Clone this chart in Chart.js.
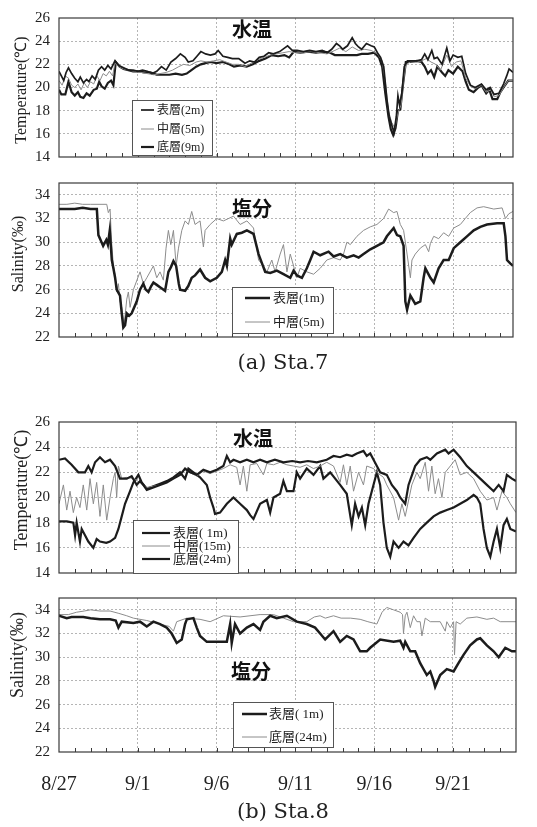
<!DOCTYPE html>
<html>
<head>
<meta charset="utf-8">
<script src="https://cdn.jsdelivr.net/npm/chart.js@4/dist/chart.umd.min.js"></script>
<style>
  html, body { margin: 0; padding: 0; background: #fff; }
  #wrap { position: relative; width: 537px; height: 827px; overflow: hidden; }
  #wrap canvas { position: absolute; left: 0; top: 0; }
</style>
</head>
<body>
<div id="wrap">
  <canvas id="c1" width="537" height="827"></canvas>
  <canvas id="c2" width="537" height="827"></canvas>
  <canvas id="c3" width="537" height="827"></canvas>
  <canvas id="c4" width="537" height="827"></canvas>
</div>
<script>
// Time axis: days elapsed since 8/27 00:00
const dateTicks = [0, 5, 10, 15, 20, 25];
const dateLabels = ['8/27', '9/1', '9/6', '9/11', '9/16', '9/21'];
const tempTicks = [14, 16, 18, 20, 22, 24, 26];
const salTicks = [22, 24, 26, 28, 30, 32, 34];

// ---- Sta.7 water temperature (°C), [day, value] ----
const sta7TempSurface = [[0,21.4],[0.15,21.0],[0.3,20.6],[0.45,21.3],[0.6,21.7],[0.8,21.2],[1.0,20.8],[1.2,20.5],[1.35,20.9],[1.55,20.4],[1.75,20.7],[1.9,20.5],[2.1,21.0],[2.3,20.7],[2.5,21.5],[2.7,21.8],[2.9,21.5],[3.1,21.9],[3.3,21.6],[3.55,22.3],[3.8,21.9],[4.1,21.7],[4.4,21.5],[4.7,21.5],[5.0,21.4],[5.3,21.5],[5.6,21.4],[5.9,21.2],[6.2,21.4],[6.5,21.8],[6.8,21.5],[7.1,22.2],[7.4,22.5],[7.7,22.9],[8.0,22.6],[8.2,22.2],[8.5,22.3],[8.75,22.7],[9.0,23.1],[9.3,22.9],[9.6,22.8],[9.9,22.9],[10.1,23.2],[10.4,22.7],[10.7,22.6],[11.0,22.5],[11.4,22.5],[11.8,22.1],[12.1,22.3],[12.4,22.2],[12.7,22.6],[13.0,22.7],[13.3,23.0],[13.6,22.9],[14.0,23.1],[14.3,23.4],[14.5,23.6],[14.8,23.2],[15.1,23.2],[15.5,23.1],[15.9,23.2],[16.3,23.1],[16.7,23.2],[17.0,23.0],[17.3,23.3],[17.6,23.8],[17.8,23.6],[18.0,23.3],[18.3,23.6],[18.6,24.3],[18.8,23.8],[19.0,23.5],[19.2,23.3],[19.5,23.8],[19.8,23.6],[20.0,23.5],[20.2,23.0],[20.4,22.6],[20.6,21.8],[20.8,19.0],[20.95,17.5],[21.1,16.8],[21.25,16.1],[21.4,17.5],[21.5,19.3],[21.6,18.5],[21.75,19.5],[21.9,21.8],[22.1,22.3],[22.4,22.3],[22.7,22.3],[23.0,22.4],[23.2,22.9],[23.4,22.4],[23.65,23.2],[23.8,22.5],[24.0,22.6],[24.3,22.0],[24.6,23.4],[24.8,22.3],[25.0,22.8],[25.3,22.6],[25.55,22.7],[25.8,21.2],[26.1,20.2],[26.4,20.0],[26.8,20.3],[27.1,19.8],[27.35,20.0],[27.6,19.4],[27.9,19.5],[28.2,20.3],[28.4,21.0],[28.55,21.6],[28.8,21.3]];
const sta7TempMiddle = [[0,20.6],[0.2,20.2],[0.4,21.0],[0.6,20.8],[0.8,20.2],[1.0,20.0],[1.2,20.3],[1.4,19.8],[1.6,20.4],[1.8,20.0],[2.0,20.5],[2.2,20.3],[2.4,21.0],[2.6,20.6],[2.8,21.2],[3.0,21.0],[3.2,21.4],[3.4,21.0],[3.55,22.1],[3.8,21.8],[4.1,21.6],[4.4,21.5],[4.8,21.4],[5.2,21.3],[5.6,21.2],[6.0,21.1],[6.4,21.2],[6.8,21.3],[7.2,21.5],[7.6,21.8],[7.9,22.0],[8.3,21.9],[8.7,22.2],[9.0,22.3],[9.4,22.2],[9.8,22.3],[10.2,22.4],[10.6,22.2],[11.0,22.0],[11.4,22.0],[11.8,21.8],[12.2,22.1],[12.6,22.4],[13.0,22.6],[13.4,22.8],[13.8,22.9],[14.2,23.0],[14.6,23.1],[15.0,23.0],[15.5,23.0],[16.0,23.1],[16.5,23.0],[17.0,22.9],[17.5,23.2],[17.8,23.4],[18.2,23.1],[18.6,23.5],[19.0,23.2],[19.4,23.3],[19.8,23.2],[20.2,22.9],[20.5,22.3],[20.7,20.5],[20.9,18.0],[21.1,17.0],[21.3,16.5],[21.5,17.8],[21.7,18.5],[21.85,20.5],[22.0,22.0],[22.3,22.2],[22.7,22.2],[23.0,22.3],[23.3,22.5],[23.6,22.2],[23.9,22.0],[24.2,21.5],[24.6,22.8],[24.9,21.8],[25.2,22.2],[25.5,22.3],[25.8,20.8],[26.1,20.1],[26.4,19.9],[26.8,20.2],[27.1,19.6],[27.4,19.8],[27.6,19.2],[27.9,19.3],[28.2,20.0],[28.5,20.6],[28.8,20.6]];
const sta7TempBottom = [[0,19.8],[0.15,19.4],[0.4,19.4],[0.6,20.5],[0.8,19.6],[1.0,19.3],[1.2,19.6],[1.35,19.2],[1.55,19.1],[1.75,19.5],[1.95,19.3],[2.2,19.8],[2.4,19.9],[2.55,20.5],[2.7,20.1],[2.9,19.9],[3.1,20.4],[3.3,20.6],[3.45,20.2],[3.6,22.2],[3.85,21.8],[4.1,21.6],[4.4,21.5],[4.7,21.4],[5.0,21.4],[5.4,21.3],[5.8,21.3],[6.2,21.1],[6.6,21.1],[7.0,21.1],[7.4,21.2],[7.8,21.1],[8.1,21.2],[8.4,21.5],[8.7,21.8],[9.0,22.0],[9.3,22.1],[9.6,22.2],[10.0,22.1],[10.4,22.2],[10.8,22.0],[11.1,21.8],[11.5,21.9],[11.9,21.8],[12.3,22.0],[12.7,22.3],[13.1,22.5],[13.5,22.8],[13.9,22.7],[14.3,22.8],[14.6,22.6],[14.9,23.1],[15.3,23.0],[15.8,23.1],[16.3,23.0],[16.8,23.1],[17.2,23.0],[17.5,22.8],[18.0,22.8],[18.5,22.8],[18.9,22.8],[19.2,22.9],[19.6,22.9],[20.0,23.0],[20.3,22.6],[20.5,21.8],[20.7,19.5],[20.9,17.5],[21.05,16.4],[21.2,15.9],[21.35,16.5],[21.5,18.0],[21.65,18.1],[21.8,20.0],[22.0,22.2],[22.3,22.2],[22.7,22.3],[23.0,22.2],[23.2,21.8],[23.4,21.2],[23.6,21.5],[23.8,20.9],[24.0,21.8],[24.3,21.3],[24.5,21.0],[24.7,21.5],[25.0,21.2],[25.3,21.8],[25.6,21.4],[25.8,20.5],[26.0,19.8],[26.3,19.6],[26.6,20.0],[26.8,20.2],[27.1,19.5],[27.3,19.8],[27.5,19.0],[27.8,19.0],[28.0,19.6],[28.2,20.0],[28.5,20.6],[28.8,20.6]];

// ---- Sta.7 salinity (‰) ----
const sta7SalSurface = [[0,32.8],[0.5,32.8],[1.0,32.8],[1.5,32.9],[2.0,32.8],[2.4,32.8],[2.5,30.6],[2.7,30.0],[2.8,29.7],[3.0,30.2],[3.1,29.8],[3.22,31.0],[3.35,28.5],[3.45,27.8],[3.56,27.0],[3.66,26.0],[3.87,25.5],[3.98,24.0],[4.08,22.8],[4.19,23.0],[4.3,24.0],[4.45,23.8],[4.61,24.0],[4.8,24.6],[4.93,25.0],[5.14,26.0],[5.35,26.5],[5.5,26.0],[5.67,25.8],[5.85,26.3],[5.99,26.6],[6.2,26.4],[6.41,26.2],[6.73,25.9],[6.94,27.5],[7.1,27.9],[7.26,28.4],[7.43,28.0],[7.6,26.5],[7.68,26.0],[8.0,25.9],[8.2,26.3],[8.42,27.0],[8.63,27.2],[8.95,27.7],[9.27,27.0],[9.59,26.7],[10.01,27.0],[10.33,27.5],[10.54,28.5],[10.65,28.0],[10.86,30.3],[10.96,29.8],[11.28,30.7],[11.6,30.8],[11.92,31.0],[12.34,30.7],[12.66,29.0],[13.08,27.5],[13.4,27.4],[13.82,27.6],[14.24,27.3],[14.67,27.0],[14.88,27.6],[15.1,27.2],[15.41,27.0],[15.72,27.8],[15.94,28.5],[16.15,29.2],[16.57,28.9],[17.1,29.2],[17.42,28.8],[17.84,29.0],[18.26,28.7],[18.69,28.9],[19.01,28.7],[19.32,29.0],[19.75,29.4],[20.17,29.7],[20.59,30.0],[20.8,30.5],[21.23,31.2],[21.44,30.6],[21.65,30.5],[21.86,29.7],[21.97,25.0],[22.08,24.3],[22.29,25.5],[22.6,24.8],[22.92,25.0],[23.13,27.0],[23.24,27.8],[23.56,27.0],[23.77,26.6],[24.08,27.8],[24.4,28.5],[24.72,28.5],[25.04,29.5],[25.46,30.0],[25.88,30.5],[26.31,31.0],[26.73,31.3],[27.15,31.5],[27.79,31.6],[28.21,31.6],[28.32,30.5],[28.42,28.5],[28.64,28.2],[28.8,28.0]];
const sta7SalMiddle = [[0,33.2],[0.5,33.2],[1.0,33.3],[1.5,33.2],[2.0,33.2],[2.6,33.2],[3.03,33.2],[3.13,32.5],[3.24,32.8],[3.34,30.0],[3.45,28.0],[3.56,27.2],[3.66,25.8],[3.77,26.5],[3.87,25.0],[3.98,24.5],[4.13,23.0],[4.3,25.2],[4.4,25.8],[4.51,24.5],[4.72,26.0],[5.14,27.5],[5.35,26.5],[5.57,27.0],[5.99,28.0],[6.2,27.0],[6.41,27.5],[6.62,26.8],[6.79,29.5],[6.94,31.0],[7.09,29.8],[7.26,31.0],[7.43,28.0],[7.58,29.5],[7.79,31.0],[8.0,31.8],[8.21,31.5],[8.42,32.6],[8.63,31.5],[8.95,31.8],[9.16,29.6],[9.27,31.0],[9.59,31.5],[10.01,32.0],[10.43,31.8],[11.07,32.2],[11.49,31.5],[11.92,31.8],[12.34,31.2],[12.66,28.5],[12.97,28.0],[13.19,27.5],[13.5,28.5],[13.71,27.5],[14.03,29.0],[14.24,29.8],[14.46,27.5],[14.67,29.0],[15.09,27.0],[15.3,27.8],[15.72,27.5],[16.15,27.3],[16.57,27.8],[16.99,28.5],[17.42,28.7],[17.84,28.5],[18.05,29.0],[18.26,30.0],[18.48,29.8],[18.9,30.5],[19.32,31.0],[19.75,31.3],[20.17,31.5],[20.59,32.0],[20.91,32.8],[21.23,32.5],[21.44,32.6],[21.65,31.5],[21.86,31.0],[22.08,29.0],[22.29,27.0],[22.39,28.5],[22.6,29.0],[22.92,29.5],[23.24,29.8],[23.45,29.2],[23.56,29.9],[23.77,30.5],[24.08,30.3],[24.4,30.8],[24.72,30.5],[25.04,31.2],[25.46,31.5],[25.77,32.0],[26.09,32.5],[26.52,32.9],[26.94,33.0],[27.58,32.8],[28.11,32.9],[28.32,32.0],[28.53,32.4],[28.8,32.6]];

// ---- Sta.8 water temperature (°C) ----
const sta8TempSurface = [[0,23.0],[0.38,23.1],[0.8,22.6],[1.23,22.0],[1.65,22.0],[1.86,22.5],[2.07,22.0],[2.29,22.8],[2.6,23.2],[2.92,22.8],[3.24,23.0],[3.56,22.5],[3.87,21.5],[4.3,21.5],[4.61,21.7],[4.93,21.0],[5.14,21.3],[5.35,21.0],[5.57,20.6],[5.99,20.8],[6.41,21.0],[6.84,21.2],[7.26,21.5],[7.68,21.8],[8.0,22.3],[8.32,22.0],[8.74,21.8],[9.16,22.2],[9.59,22.0],[10.01,22.2],[10.43,22.5],[10.65,23.3],[10.86,22.8],[11.07,23.0],[11.49,22.8],[11.92,23.0],[12.34,22.8],[12.76,23.0],[13.19,22.8],[13.7,23.0],[14.24,22.8],[14.8,22.9],[15.3,22.8],[15.8,22.9],[16.36,22.8],[16.99,23.0],[17.42,23.3],[17.84,23.2],[18.26,23.4],[18.6,23.3],[18.9,23.5],[19.32,23.7],[19.53,23.3],[19.75,23.5],[20.17,22.5],[20.38,22.0],[20.8,21.8],[21.12,21.0],[21.44,20.5],[21.65,20.0],[21.97,19.5],[22.18,21.0],[22.6,22.5],[22.92,23.0],[23.34,23.2],[23.56,23.0],[23.98,23.5],[24.51,23.8],[24.72,23.5],[25.04,23.8],[25.46,23.2],[25.88,22.5],[26.31,22.0],[26.73,21.5],[27.15,21.0],[27.58,20.5],[27.9,21.0],[28.21,20.5],[28.42,21.8],[28.74,21.5],[29.0,21.3]];
const sta8TempMiddle = [[0,19.5],[0.28,21.0],[0.49,19.0],[0.7,20.5],[0.91,18.8],[1.12,20.0],[1.33,19.2],[1.54,21.0],[1.76,19.0],[1.97,21.5],[2.18,19.5],[2.39,21.2],[2.6,18.5],[2.81,21.0],[3.03,18.2],[3.24,20.0],[3.45,21.5],[3.56,22.0],[3.66,20.0],[3.77,22.5],[3.98,21.5],[4.3,21.6],[4.72,21.5],[5.14,21.2],[5.57,20.8],[5.99,20.9],[6.41,21.0],[6.84,21.2],[7.26,21.5],[7.68,21.8],[8.0,22.2],[8.42,21.9],[8.74,21.7],[9.16,22.1],[9.59,21.9],[10.01,22.1],[10.43,22.3],[10.86,22.6],[11.28,22.4],[11.49,21.0],[11.7,22.5],[11.92,20.5],[12.13,22.6],[12.55,22.7],[12.97,21.8],[13.19,22.7],[13.61,22.6],[14.03,22.8],[14.46,22.6],[14.88,22.5],[15.3,22.4],[15.72,22.6],[16.15,22.3],[16.57,22.5],[16.99,22.8],[17.42,22.5],[17.84,21.2],[18.05,22.6],[18.26,21.0],[18.48,22.5],[18.69,20.5],[19.01,22.0],[19.32,21.0],[19.53,22.5],[19.96,22.3],[20.17,22.0],[20.59,21.6],[20.8,21.0],[21.23,20.0],[21.55,18.2],[21.76,19.5],[21.97,18.5],[22.39,21.0],[22.71,22.0],[22.92,21.5],[23.24,22.8],[23.45,20.5],[23.66,22.5],[23.87,20.3],[24.08,21.5],[24.3,20.0],[24.51,22.0],[24.83,22.5],[25.14,23.0],[25.46,21.8],[25.88,22.0],[26.31,21.5],[26.73,20.5],[27.15,19.8],[27.58,20.0],[27.79,19.0],[28.11,20.5],[28.42,20.0],[28.64,19.5],[29.0,18.8]];
const sta8TempBottom = [[0,18.1],[0.5,18.1],[0.91,18.0],[1.02,17.0],[1.12,18.0],[1.33,16.5],[1.44,17.5],[1.65,17.0],[1.86,16.5],[2.18,16.0],[2.39,16.7],[2.6,16.5],[3.0,16.4],[3.24,16.5],[3.56,16.8],[3.77,17.5],[3.98,18.5],[4.19,19.5],[4.51,20.5],[4.72,21.2],[5.04,21.8],[5.25,21.2],[5.57,20.7],[5.99,20.9],[6.41,21.1],[6.84,21.3],[7.26,21.6],[7.68,22.0],[8.0,21.5],[8.21,22.3],[8.53,22.0],[8.95,21.6],[9.38,21.0],[9.59,20.0],[9.8,19.2],[9.9,18.7],[10.22,18.8],[10.65,19.5],[11.07,20.0],[11.49,19.5],[11.92,19.0],[12.13,18.6],[12.34,18.3],[12.76,19.5],[13.19,19.8],[13.4,18.8],[13.61,20.0],[14.03,20.3],[14.24,21.3],[14.46,20.5],[14.88,20.5],[15.09,22.0],[15.3,21.5],[15.72,22.3],[16.15,21.8],[16.57,22.5],[16.78,21.5],[17.21,22.0],[17.84,21.0],[18.26,20.3],[18.58,17.8],[18.79,19.5],[19.01,18.5],[19.22,19.2],[19.43,17.8],[19.64,19.5],[19.85,20.5],[20.17,22.0],[20.38,21.0],[20.59,18.0],[20.8,16.0],[21.02,15.3],[21.23,16.5],[21.55,16.0],[21.86,16.5],[22.18,16.2],[22.5,16.8],[22.92,17.5],[23.34,18.0],[23.77,18.5],[24.19,18.8],[24.61,19.0],[25.04,19.2],[25.46,19.5],[25.88,19.8],[26.31,20.2],[26.52,20.0],[26.73,19.5],[26.94,17.5],[27.15,16.0],[27.37,15.3],[27.58,16.5],[27.79,17.5],[28.0,16.0],[28.21,17.8],[28.42,18.3],[28.64,17.5],[29.0,17.3]];

// ---- Sta.8 salinity (‰) ----
const sta8SalSurface = [[0,33.5],[0.49,33.3],[0.8,33.4],[1.54,33.4],[2.0,33.3],[2.6,33.2],[3.24,33.2],[3.6,33.1],[3.77,32.5],[3.98,33.0],[4.72,32.9],[5.14,33.0],[5.57,32.6],[5.99,33.0],[6.41,32.8],[6.84,32.5],[7.15,32.0],[7.35,31.5],[7.47,31.2],[7.79,31.5],[8.0,32.8],[8.11,33.2],[8.53,33.3],[8.74,32.5],[8.95,31.8],[9.38,31.3],[10.0,31.3],[10.65,31.3],[10.86,32.8],[10.96,31.2],[11.17,32.8],[11.49,32.0],[11.92,32.5],[12.34,32.8],[12.76,32.3],[12.97,33.0],[13.4,33.5],[13.82,33.3],[14.46,33.5],[15.09,33.0],[15.72,32.8],[16.25,32.5],[16.57,32.0],[16.89,31.5],[17.42,32.2],[17.84,31.3],[18.26,31.8],[18.69,31.5],[19.11,30.5],[19.53,30.5],[19.75,30.8],[20.38,31.5],[21.23,31.3],[21.65,31.4],[21.86,30.8],[21.97,31.3],[22.29,30.5],[22.6,30.5],[22.92,29.5],[23.34,28.5],[23.56,28.8],[23.77,28.0],[23.87,27.5],[24.19,28.5],[24.61,29.0],[25.04,28.8],[25.35,29.5],[25.67,30.2],[26.09,31.0],[26.52,31.5],[26.73,31.6],[27.15,31.0],[27.58,30.5],[27.9,30.0],[28.32,30.8],[28.74,30.5],[29.0,30.5]];
const sta8SalBottom = [[0,33.6],[0.6,33.6],[1.12,33.8],[1.6,33.9],[2.0,34.0],[2.6,33.9],[3.24,33.9],[3.8,33.7],[4.3,33.5],[4.72,33.3],[5.57,33.1],[6.41,32.8],[7.0,32.6],[7.26,32.2],[7.47,33.0],[8.11,33.3],[8.95,33.2],[9.59,33.0],[10.43,33.5],[11.49,33.4],[12.76,33.6],[13.61,33.6],[14.24,33.3],[14.88,33.0],[15.72,33.0],[16.2,33.4],[16.57,33.5],[16.9,33.3],[17.42,33.5],[17.9,33.3],[18.5,33.3],[19.11,33.2],[19.6,33.0],[20.17,32.8],[20.5,33.8],[20.8,34.2],[21.23,34.0],[21.65,33.8],[21.8,33.6],[21.86,32.0],[21.97,33.5],[22.08,33.8],[22.29,32.5],[22.5,33.5],[22.71,33.0],[22.92,33.0],[23.03,31.8],[23.24,33.3],[23.56,33.0],[24.19,33.0],[24.51,32.2],[24.61,33.0],[24.83,32.5],[25.04,33.0],[25.1,30.2],[25.2,33.0],[25.46,32.8],[25.88,33.3],[26.52,33.4],[27.15,33.2],[27.58,33.3],[28.0,33.0],[29.0,33.0]];

const BLACK = '#1c1c1c';
const GRAY = '#8c8c8c';
const SERIF = '"Liberation Serif", "Times New Roman", serif';
const CJK = '"Noto Sans CJK JP", sans-serif';

function toPoints(rows) { return rows.map(([x, y]) => ({ x, y })); }

// Frame, day tick marks, panel title, axis title, legend and caption
const panelDecor = {
  id: 'panelDecor',
  afterDatasetsDraw(chart, args, o) {
    const { ctx, chartArea: a } = chart;
    const xs = chart.scales.x;
    ctx.save();
    ctx.strokeStyle = '#3a3a3a';
    ctx.lineWidth = 1.2;
    ctx.strokeRect(a.left, a.top, a.right - a.left, a.bottom - a.top);
    ctx.lineWidth = 1;
    ctx.beginPath();
    for (let d = 1; d < xs.max; d++) {
      const px = Math.round(xs.getPixelForValue(d)) + 0.5;
      ctx.moveTo(px, a.bottom);
      ctx.lineTo(px, a.bottom - 4);
    }
    ctx.stroke();

    // panel title
    ctx.fillStyle = '#111';
    ctx.font = 'bold 20px ' + CJK;
    ctx.textAlign = 'center';
    ctx.textBaseline = 'middle';
    ctx.fillText(o.title, o.titleX, o.titleY);

    // vertical axis title
    ctx.save();
    ctx.translate(o.yTitleX, o.yTitleY);
    ctx.rotate(-Math.PI / 2);
    ctx.font = o.yTitleSize + 'px ' + SERIF;
    ctx.fillStyle = '#222';
    ctx.fillText(o.yTitle, 0, 0);
    ctx.restore();

    // legend
    const L = o.legend;
    ctx.fillStyle = '#fff';
    ctx.fillRect(L.x1, L.y1, L.x2 - L.x1, L.y2 - L.y1);
    ctx.strokeStyle = '#555';
    ctx.lineWidth = 1;
    ctx.strokeRect(L.x1 + 0.5, L.y1 + 0.5, L.x2 - L.x1, L.y2 - L.y1);
    ctx.textAlign = 'left';
    ctx.font = L.size + 'px ' + SERIF + ', ' + CJK;
    chart.data.datasets.forEach((ds, i) => {
      const y = L.rows[i];
      ctx.strokeStyle = ds.borderColor;
      ctx.lineWidth = ds.borderWidth;
      ctx.beginPath();
      ctx.moveTo(L.lineX1, y);
      ctx.lineTo(L.lineX2, y);
      ctx.stroke();
      ctx.fillStyle = '#222';
      ctx.fillText(ds.label, L.textX, y + 0.5);
    });

    if (o.caption) {
      ctx.font = '21px "DejaVu Serif", serif';
      ctx.fillStyle = '#222';
      ctx.textAlign = 'center';
      ctx.fillText(o.caption, o.captionX, o.captionY);
    }
    ctx.restore();
  }
};

function makePanel(id, p) {
  const xAxisHeight = p.showDates ? 827 - p.bottom : 0;
  new Chart(document.getElementById(id), {
    type: 'line',
    data: {
      datasets: p.series.map(s => ({
        label: s.label,
        data: toPoints(s.data),
        borderColor: s.color,
        borderWidth: s.width,
        pointRadius: 0,
        tension: 0,
        fill: false
      }))
    },
    options: {
      responsive: false,
      animation: false,
      events: [],
      layout: { padding: { left: 0, top: p.top, right: 537 - p.right, bottom: p.showDates ? 0 : 827 - p.bottom } },
      plugins: { legend: { display: false }, tooltip: { enabled: false }, panelDecor: p.decor },
      scales: {
        x: {
          type: 'linear',
          min: 0,
          max: p.xMax,
          afterBuildTicks: s => { s.ticks = s.ticks.filter(t => Number.isInteger(t.value)); },
          afterFit: s => { s.height = xAxisHeight; },
          border: { display: false, dash: [2, 2] },
          grid: {
            drawTicks: false,
            lineWidth: 1,
            color: c => (c.tick && c.tick.value % 5 === 0 && c.tick.value > 0) ? '#b5b5b5' : 'rgba(0,0,0,0)'
          },
          ticks: {
            display: !!p.showDates,
            stepSize: 1,
            autoSkip: false,
            maxRotation: 0,
            padding: 21,
            color: '#222',
            font: { family: SERIF, size: 20 },
            callback: v => { const i = dateTicks.indexOf(v); return i >= 0 ? dateLabels[i] : ''; }
          }
        },
        y: {
          min: p.yMin,
          max: p.yMax,
          afterBuildTicks: s => { s.ticks = p.yTicks.map(v => ({ value: v })); },
          afterFit: s => { s.width = 59; },
          border: { display: false, dash: [2, 2] },
          grid: {
            drawTicks: false,
            lineWidth: 1,
            color: c => (c.tick && c.tick.value > p.yMin && c.tick.value < p.yMax) ? '#b5b5b5' : 'rgba(0,0,0,0)'
          },
          ticks: {
            padding: 9,
            color: '#222',
            font: { family: SERIF, size: 15 }
          }
        }
      }
    },
    plugins: [panelDecor]
  });
}

// Sta.7 temperature
makePanel('c1', {
  top: 12, bottom: 157, right: 513, xMax: 28.8, yMin: 14, yMax: 26, yTicks: tempTicks,
  series: [
    { label: '表層(2m)', data: sta7TempSurface, color: BLACK, width: 1.7 },
    { label: '中層(5m)', data: sta7TempMiddle, color: GRAY, width: 1 },
    { label: '底層(9m)', data: sta7TempBottom, color: BLACK, width: 2.2 }
  ],
  decor: {
    title: '水温', titleX: 252, titleY: 29,
    yTitle: 'Temperature(℃)', yTitleX: 22, yTitleY: 90, yTitleSize: 16,
    legend: { x1: 132, y1: 100, x2: 212, y2: 155, rows: [110, 129, 147], lineX1: 141, lineX2: 154, textX: 157, size: 12 }
  }
});

// Sta.7 salinity
makePanel('c2', {
  top: 183, bottom: 337, right: 513, xMax: 28.8, yMin: 22, yMax: 35, yTicks: salTicks,
  series: [
    { label: '表層(1m)', data: sta7SalSurface, color: BLACK, width: 2.5 },
    { label: '中層(5m)', data: sta7SalMiddle, color: GRAY, width: 1 }
  ],
  decor: {
    title: '塩分', titleX: 252, titleY: 208,
    yTitle: 'Salinity(‰)', yTitleX: 19, yTitleY: 254, yTitleSize: 16,
    legend: { x1: 232, y1: 287, x2: 333, y2: 333, rows: [298, 322], lineX1: 245, lineX2: 270, textX: 273, size: 13 },
    caption: '(a) Sta.7', captionX: 283, captionY: 364
  }
});

// Sta.8 temperature
makePanel('c3', {
  top: 422, bottom: 573, right: 516, xMax: 29.0, yMin: 14, yMax: 26, yTicks: tempTicks,
  series: [
    { label: '表層( 1m)', data: sta8TempSurface, color: BLACK, width: 2.2 },
    { label: '中層(15m)', data: sta8TempMiddle, color: GRAY, width: 1 },
    { label: '底層(24m)', data: sta8TempBottom, color: BLACK, width: 2.2 }
  ],
  decor: {
    title: '水温', titleX: 253, titleY: 438,
    yTitle: 'Temperature(℃)', yTitleX: 22, yTitleY: 490, yTitleSize: 18,
    legend: { x1: 133, y1: 520, x2: 238, y2: 573, rows: [533, 546, 559], lineX1: 142, lineX2: 170, textX: 173, size: 13 }
  }
});

// Sta.8 salinity
makePanel('c4', {
  top: 598, bottom: 752, right: 516, xMax: 29.0, yMin: 22, yMax: 35, yTicks: salTicks, showDates: true,
  series: [
    { label: '表層( 1m)', data: sta8SalSurface, color: BLACK, width: 2.5 },
    { label: '底層(24m)', data: sta8SalBottom, color: GRAY, width: 1 }
  ],
  decor: {
    title: '塩分', titleX: 251, titleY: 671,
    yTitle: 'Salinity(‰)', yTitleX: 18, yTitleY: 655, yTitleSize: 18,
    legend: { x1: 233, y1: 702, x2: 333, y2: 747, rows: [714, 737], lineX1: 242, lineX2: 267, textX: 269, size: 13 },
    caption: '(b) Sta.8', captionX: 283, captionY: 813
  }
});
</script>
</body>
</html>
